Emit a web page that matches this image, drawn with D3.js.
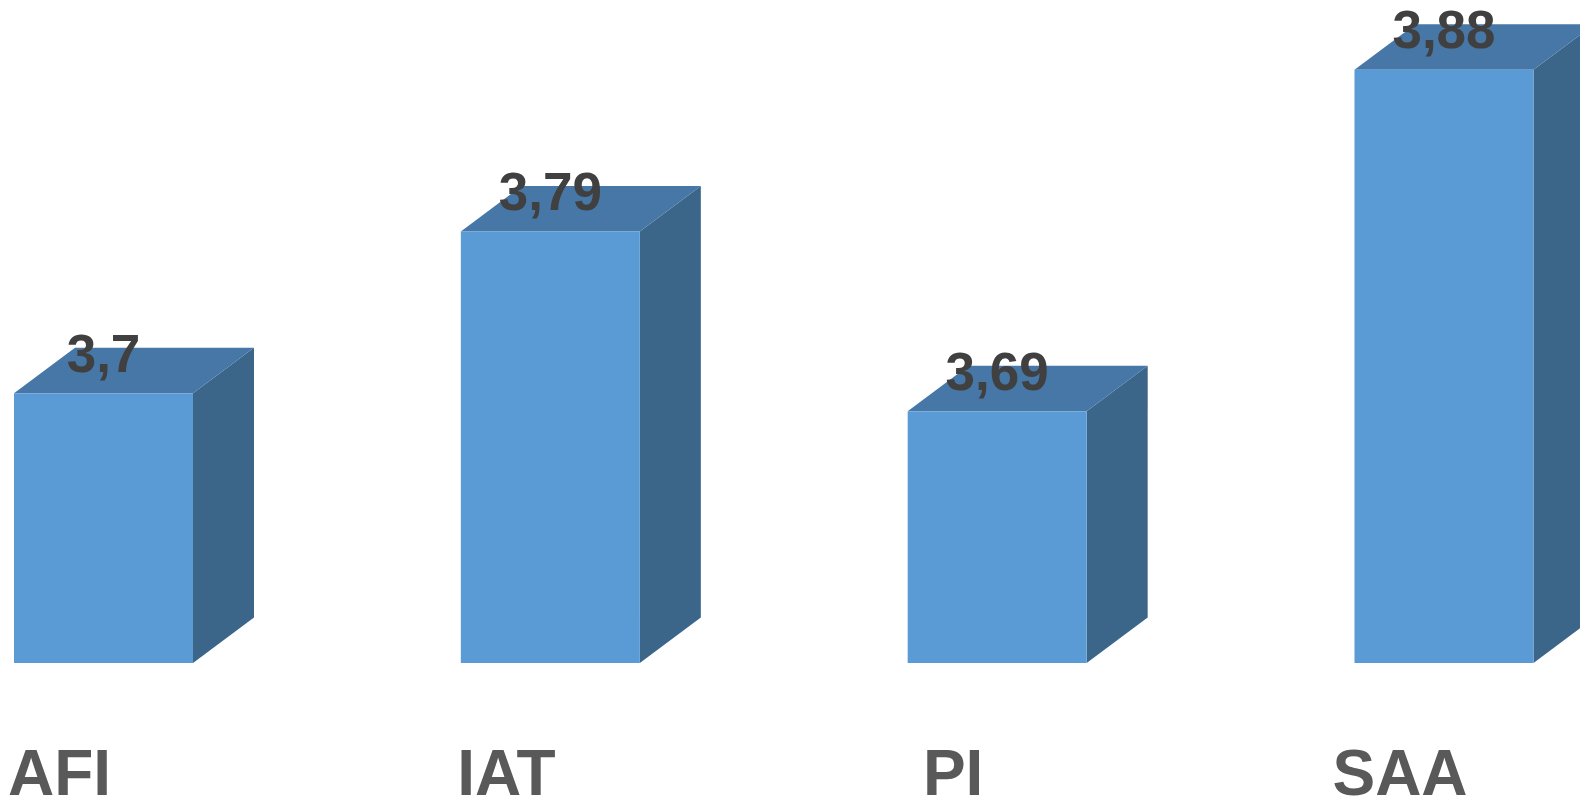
<!DOCTYPE html>
<html>
<head>
	<meta charset="utf-8">
	<script src="https://cdn.jsdelivr.net/npm/d3@7"></script>
	<style>
		html, body { margin: 0; padding: 0; background: #fff; overflow: hidden; }
		text { font-family: "Liberation Sans", Arial, sans-serif; font-weight: bold; }
	</style>
</head>
<body>
	<div id="chart"></div>
	<script>
		// data
		var categories = ["AFI", "IAT", "PI", "SAA"];
		var values = [3.70, 3.79, 3.69, 3.88];
		var valueLabels = ["3,7", "3,79", "3,69", "3,88"];

		var width = 1580, height = 800;
		var barWidth = 179;
		var depthX = 61, depthY = 45.5; // 3d offset of the back face

		var svg = d3.select("#chart").append("svg")
			.attr("width", width)
			.attr("height", height);

		var x = d3.scalePoint()
			.domain(categories)
			.range([103.5, 1444]);

		var y = d3.scaleLinear()
			.domain([3.55, 3.9])
			.range([663, 663 - 0.35 * 1798]);

		var bars = svg.selectAll("g.bar")
			.data(categories.map(function(c, i) { return { cat: c, value: values[i], label: valueLabels[i] }; }))
			.enter().append("g")
			.attr("class", "bar");

		// right side face
		bars.append("path")
			.attr("fill", "#3b6589")
			.attr("d", function(d) {
				var x1 = x(d.cat) + barWidth / 2, y0 = y(d.value), y1 = y(3.55);
				return "M" + x1 + "," + y0 + "L" + (x1 + depthX) + "," + (y0 - depthY) +
					"L" + (x1 + depthX) + "," + (y1 - depthY) + "L" + x1 + "," + y1 + "Z";
			});

		// top face
		bars.append("path")
			.attr("fill", "#4677a6")
			.attr("d", function(d) {
				var x0 = x(d.cat) - barWidth / 2, x1 = x0 + barWidth, y0 = y(d.value);
				return "M" + x0 + "," + y0 + "L" + (x0 + depthX) + "," + (y0 - depthY) +
					"L" + (x1 + depthX) + "," + (y0 - depthY) + "L" + x1 + "," + y0 + "Z";
			});

		// front face
		bars.append("rect")
			.attr("fill", "#5b9bd5")
			.attr("x", function(d) { return x(d.cat) - barWidth / 2; })
			.attr("y", function(d) { return y(d.value); })
			.attr("width", barWidth)
			.attr("height", function(d) { return y(3.55) - y(d.value); });

		// value labels
		bars.append("text")
			.attr("x", function(d) { return x(d.cat); })
			.attr("y", function(d) { return y(d.value) - 21.5; })
			.attr("text-anchor", "middle")
			.attr("fill", "#404040")
			.style("font-size", "53px")
			.text(function(d) { return d.label; });

		// category labels
		svg.selectAll("text.cat")
			.data(categories)
			.enter().append("text")
			.attr("class", "cat")
			.attr("x", function(d) { return x(d) - 44; })
			.attr("y", 795)
			.attr("text-anchor", "middle")
			.attr("fill", "#595959")
			.style("font-size", "64px")
			.text(function(d) { return d; });
	</script>
</body>
</html>
